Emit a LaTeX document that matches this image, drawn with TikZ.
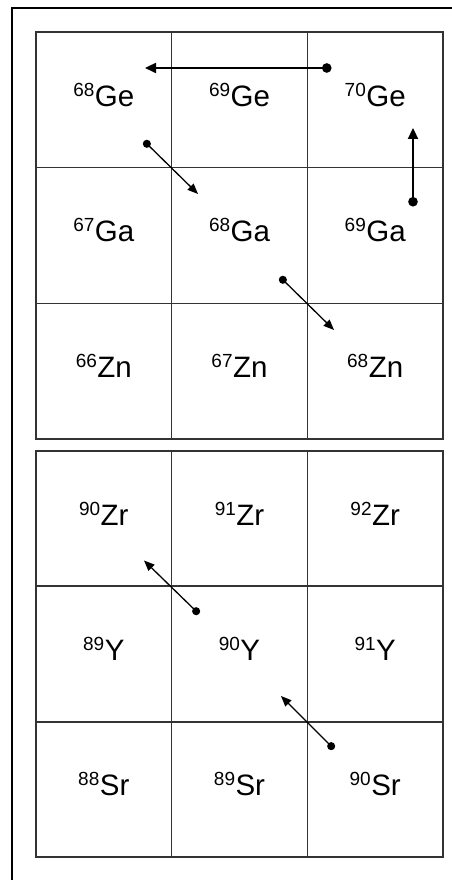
\documentclass[tikz,border=0pt]{standalone}
\usepackage{fontspec}
\setmainfont{Liberation Sans}
\usetikzlibrary{arrows.meta}
\newcommand{\iso}[2]{{\fontsize{19}{19}\selectfont\raisebox{10pt}{#1}}\kern0.5pt{\fontsize{29.5}{29.5}\selectfont #2}}
\tikzset{
  cell/.style={draw=black!80, line width=1.5pt, minimum width=135.67pt, minimum height=135.67pt, inner sep=0pt},
  lbl/.style={anchor=base, inner sep=0pt},
  thickarr/.style={line width=2.2pt, {Circle[length=9.5pt]}-{Triangle[length=11pt,width=10pt]}},
  thinarr/.style={line width=1.3pt, {Circle[length=8pt]}-{Triangle[length=10.5pt,width=8.5pt]}}
}
\begin{document}
\begin{tikzpicture}[x=1pt,y=1pt]
\useasboundingbox (0,0) rectangle (452,880);
\fill[white] (0,0) rectangle (452,880);
% outer frame (cut at right and bottom)
\draw[line width=2pt] (455,872) -- (12,872) -- (12,-5);
% top grid
\node[cell] (ge68) at (103.8,780.2) {};
\node[cell] (ge69) at (239.5,780.2) {};
\node[cell] (ge70) at (375.2,780.2) {};
\node[cell] (ga67) at (103.8,644.5) {};
\node[cell] (ga68) at (239.5,644.5) {};
\node[cell] (ga69) at (375.2,644.5) {};
\node[cell] (zn66) at (103.8,508.8) {};
\node[cell] (zn67) at (239.5,508.8) {};
\node[cell] (zn68) at (375.2,508.8) {};
% bottom grid
\node[cell] (zr90) at (103.8,361.3) {};
\node[cell] (zr91) at (239.5,361.3) {};
\node[cell] (zr92) at (375.2,361.3) {};
\node[cell] (y89) at (103.8,226) {};
\node[cell] (y90) at (239.5,226) {};
\node[cell] (y91) at (375.2,226) {};
\node[cell] (sr88) at (103.8,90.7) {};
\node[cell] (sr89) at (239.5,90.7) {};
\node[cell] (sr90) at (375.2,90.7) {};
% labels
\node[lbl] (tge68) at ([yshift=-6.8pt]ge68.center) {\iso{68}{Ge}};
\node[lbl] (tge69) at ([yshift=-6.8pt]ge69.center) {\iso{69}{Ge}};
\node[lbl] (tge70) at ([yshift=-6.8pt]ge70.center) {\iso{70}{Ge}};
\node[lbl] (tga67) at ([yshift=-6.2pt]ga67.center) {\iso{67}{Ga}};
\node[lbl] (tga68) at ([yshift=-6.2pt]ga68.center) {\iso{68}{Ga}};
\node[lbl] (tga69) at ([yshift=-6.2pt]ga69.center) {\iso{69}{Ga}};
\node[lbl] (tzn66) at ([yshift=-6.8pt]zn66.center) {\iso{66}{Zn}};
\node[lbl] (tzn67) at ([yshift=-6.8pt]zn67.center) {\iso{67}{Zn}};
\node[lbl] (tzn68) at ([yshift=-6.8pt]zn68.center) {\iso{68}{Zn}};
\node[lbl] (tzr90) at ([yshift=-6.5pt]zr90.center) {\iso{90}{Zr}};
\node[lbl] (tzr91) at ([yshift=-6.5pt]zr91.center) {\iso{91}{Zr}};
\node[lbl] (tzr92) at ([yshift=-6.5pt]zr92.center) {\iso{92}{Zr}};
\node[lbl] (ty89) at ([yshift=-6.5pt]y89.center) {\iso{89}{Y}};
\node[lbl] (ty90) at ([yshift=-6.5pt]y90.center) {\iso{90}{Y}};
\node[lbl] (ty91) at ([yshift=-6.5pt]y91.center) {\iso{91}{Y}};
\node[lbl] (tsr88) at ([yshift=-6.5pt]sr88.center) {\iso{88}{Sr}};
\node[lbl] (tsr89) at ([yshift=-6.5pt]sr89.center) {\iso{89}{Sr}};
\node[lbl] (tsr90) at ([yshift=-6.5pt]sr90.center) {\iso{90}{Sr}};
% arrow endpoints
\coordinate (a1s) at (331.5,812);
\coordinate (a1e) at (145,812);
\coordinate (a2s) at (413,673.5);
\coordinate (a2e) at (413,752);
\coordinate (a3s) at (144,739);
\coordinate (a3e) at (198,686);
\coordinate (a4s) at (280,603);
\coordinate (a4e) at (334,550);
\coordinate (b1s) at (199,266);
\coordinate (b1e) at (144,319.5);
\coordinate (b2s) at (334,131);
\coordinate (b2e) at (281,184);
% arrows
\draw[thickarr] (a1s) -- (a1e);
\draw[thickarr] (a2s) -- (a2e);
\draw[thinarr] (a3s) -- (a3e);
\draw[thinarr] (a4s) -- (a4e);
\draw[thinarr] (b1s) -- (b1e);
\draw[thinarr] (b2s) -- (b2e);
\end{tikzpicture}
\end{document}
